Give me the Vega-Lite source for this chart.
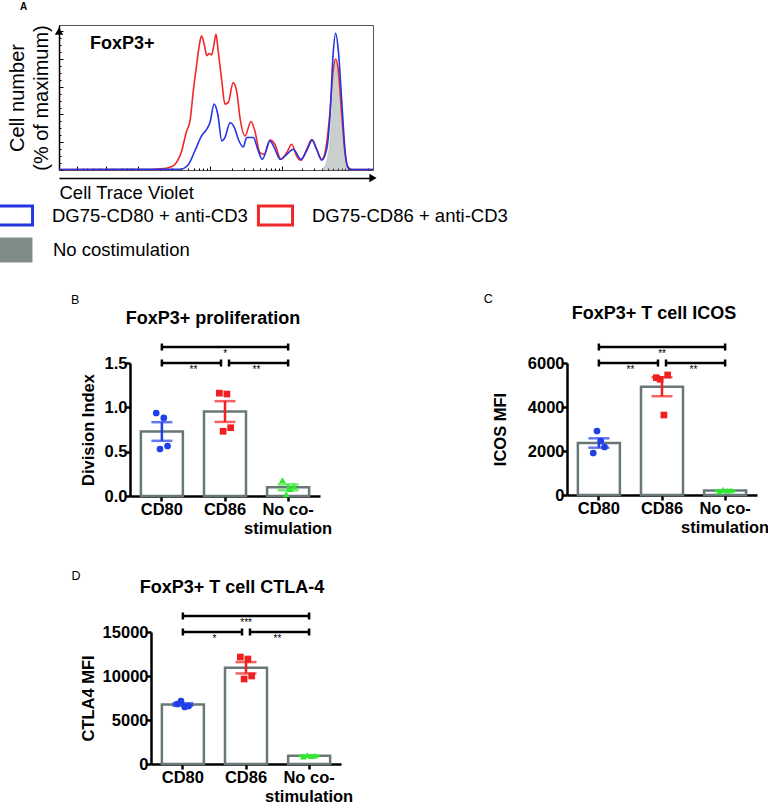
{
"$schema": "https://vega.github.io/schema/vega-lite/v6.json",
"background": "white",
"padding": {"left": 1, "top": 2, "right": 0, "bottom": 0},
"config": {
  "font": "Liberation Sans",
  "view": {"stroke": null},
  "axis": {"domainColor": "black", "domainWidth": 2.5, "tickColor": "black", "tickWidth": 2.5, "tickSize": 5, "labelFontSize": 16.5, "labelFontWeight": "bold", "labelColor": "black", "titleFontSize": 16.5, "titleFontWeight": "bold", "titleColor": "black", "grid": false, "labelPadding": 1, "zindex": 1},
  "axisY": {"labelPadding": -2},
  "axisX": {"labelPadding": 0},
  "title": {"color": "black"},
  "legend": {"padding": 0}
},
"datasets": {
  "hist": [
    {"sample": "DG75-CD86 + anti-CD3", "ctv": 0, "pct": 0.4},
    {"sample": "DG75-CD86 + anti-CD3", "ctv": 300, "pct": 0.4},
    {"sample": "DG75-CD86 + anti-CD3", "ctv": 340, "pct": 1},
    {"sample": "DG75-CD86 + anti-CD3", "ctv": 362, "pct": 2},
    {"sample": "DG75-CD86 + anti-CD3", "ctv": 378, "pct": 4},
    {"sample": "DG75-CD86 + anti-CD3", "ctv": 400, "pct": 13.7},
    {"sample": "DG75-CD86 + anti-CD3", "ctv": 416, "pct": 28},
    {"sample": "DG75-CD86 + anti-CD3", "ctv": 427, "pct": 35},
    {"sample": "DG75-CD86 + anti-CD3", "ctv": 438, "pct": 57},
    {"sample": "DG75-CD86 + anti-CD3", "ctv": 449, "pct": 76},
    {"sample": "DG75-CD86 + anti-CD3", "ctv": 460, "pct": 93},
    {"sample": "DG75-CD86 + anti-CD3", "ctv": 465, "pct": 96.8},
    {"sample": "DG75-CD86 + anti-CD3", "ctv": 474, "pct": 90},
    {"sample": "DG75-CD86 + anti-CD3", "ctv": 482, "pct": 82.4},
    {"sample": "DG75-CD86 + anti-CD3", "ctv": 490, "pct": 84},
    {"sample": "DG75-CD86 + anti-CD3", "ctv": 498, "pct": 83},
    {"sample": "DG75-CD86 + anti-CD3", "ctv": 505, "pct": 90},
    {"sample": "DG75-CD86 + anti-CD3", "ctv": 512, "pct": 98},
    {"sample": "DG75-CD86 + anti-CD3", "ctv": 519, "pct": 86},
    {"sample": "DG75-CD86 + anti-CD3", "ctv": 531, "pct": 64},
    {"sample": "DG75-CD86 + anti-CD3", "ctv": 541, "pct": 47.5},
    {"sample": "DG75-CD86 + anti-CD3", "ctv": 552, "pct": 48.7},
    {"sample": "DG75-CD86 + anti-CD3", "ctv": 568, "pct": 63},
    {"sample": "DG75-CD86 + anti-CD3", "ctv": 580, "pct": 56},
    {"sample": "DG75-CD86 + anti-CD3", "ctv": 590, "pct": 38},
    {"sample": "DG75-CD86 + anti-CD3", "ctv": 607, "pct": 24.6},
    {"sample": "DG75-CD86 + anti-CD3", "ctv": 626, "pct": 35},
    {"sample": "DG75-CD86 + anti-CD3", "ctv": 639, "pct": 28},
    {"sample": "DG75-CD86 + anti-CD3", "ctv": 655, "pct": 12.6},
    {"sample": "DG75-CD86 + anti-CD3", "ctv": 670, "pct": 11.3},
    {"sample": "DG75-CD86 + anti-CD3", "ctv": 688, "pct": 21.5},
    {"sample": "DG75-CD86 + anti-CD3", "ctv": 704, "pct": 18.6},
    {"sample": "DG75-CD86 + anti-CD3", "ctv": 724, "pct": 7.7},
    {"sample": "DG75-CD86 + anti-CD3", "ctv": 743, "pct": 12.6},
    {"sample": "DG75-CD86 + anti-CD3", "ctv": 759, "pct": 18.6},
    {"sample": "DG75-CD86 + anti-CD3", "ctv": 775, "pct": 10},
    {"sample": "DG75-CD86 + anti-CD3", "ctv": 789, "pct": 7},
    {"sample": "DG75-CD86 + anti-CD3", "ctv": 808, "pct": 15},
    {"sample": "DG75-CD86 + anti-CD3", "ctv": 824, "pct": 22},
    {"sample": "DG75-CD86 + anti-CD3", "ctv": 840, "pct": 15},
    {"sample": "DG75-CD86 + anti-CD3", "ctv": 857, "pct": 7.7},
    {"sample": "DG75-CD86 + anti-CD3", "ctv": 873, "pct": 19.8},
    {"sample": "DG75-CD86 + anti-CD3", "ctv": 884, "pct": 42.6},
    {"sample": "DG75-CD86 + anti-CD3", "ctv": 894, "pct": 71.5},
    {"sample": "DG75-CD86 + anti-CD3", "ctv": 902, "pct": 80},
    {"sample": "DG75-CD86 + anti-CD3", "ctv": 911, "pct": 71.5},
    {"sample": "DG75-CD86 + anti-CD3", "ctv": 922, "pct": 40},
    {"sample": "DG75-CD86 + anti-CD3", "ctv": 933, "pct": 11.3},
    {"sample": "DG75-CD86 + anti-CD3", "ctv": 943, "pct": 1.7},
    {"sample": "DG75-CD86 + anti-CD3", "ctv": 955, "pct": 0.4},
    {"sample": "DG75-CD86 + anti-CD3", "ctv": 1024, "pct": 0.4},
    {"sample": "DG75-CD80 + anti-CD3", "ctv": 0, "pct": 0.4},
    {"sample": "DG75-CD80 + anti-CD3", "ctv": 395, "pct": 0.5},
    {"sample": "DG75-CD80 + anti-CD3", "ctv": 422, "pct": 4},
    {"sample": "DG75-CD80 + anti-CD3", "ctv": 443, "pct": 13.7},
    {"sample": "DG75-CD80 + anti-CD3", "ctv": 465, "pct": 24.6},
    {"sample": "DG75-CD80 + anti-CD3", "ctv": 482, "pct": 29.4},
    {"sample": "DG75-CD80 + anti-CD3", "ctv": 492, "pct": 34},
    {"sample": "DG75-CD80 + anti-CD3", "ctv": 506, "pct": 47.5},
    {"sample": "DG75-CD80 + anti-CD3", "ctv": 518, "pct": 40},
    {"sample": "DG75-CD80 + anti-CD3", "ctv": 531, "pct": 21},
    {"sample": "DG75-CD80 + anti-CD3", "ctv": 541, "pct": 23.4},
    {"sample": "DG75-CD80 + anti-CD3", "ctv": 558, "pct": 34},
    {"sample": "DG75-CD80 + anti-CD3", "ctv": 572, "pct": 30.6},
    {"sample": "DG75-CD80 + anti-CD3", "ctv": 585, "pct": 22},
    {"sample": "DG75-CD80 + anti-CD3", "ctv": 601, "pct": 16.6},
    {"sample": "DG75-CD80 + anti-CD3", "ctv": 612, "pct": 23.4},
    {"sample": "DG75-CD80 + anti-CD3", "ctv": 634, "pct": 23.4},
    {"sample": "DG75-CD80 + anti-CD3", "ctv": 648, "pct": 15},
    {"sample": "DG75-CD80 + anti-CD3", "ctv": 663, "pct": 7.7},
    {"sample": "DG75-CD80 + anti-CD3", "ctv": 688, "pct": 21},
    {"sample": "DG75-CD80 + anti-CD3", "ctv": 702, "pct": 16.2},
    {"sample": "DG75-CD80 + anti-CD3", "ctv": 721, "pct": 7.7},
    {"sample": "DG75-CD80 + anti-CD3", "ctv": 743, "pct": 11.3},
    {"sample": "DG75-CD80 + anti-CD3", "ctv": 764, "pct": 15},
    {"sample": "DG75-CD80 + anti-CD3", "ctv": 789, "pct": 7.7},
    {"sample": "DG75-CD80 + anti-CD3", "ctv": 808, "pct": 14},
    {"sample": "DG75-CD80 + anti-CD3", "ctv": 826, "pct": 21.5},
    {"sample": "DG75-CD80 + anti-CD3", "ctv": 840, "pct": 15},
    {"sample": "DG75-CD80 + anti-CD3", "ctv": 857, "pct": 7},
    {"sample": "DG75-CD80 + anti-CD3", "ctv": 873, "pct": 15},
    {"sample": "DG75-CD80 + anti-CD3", "ctv": 884, "pct": 40},
    {"sample": "DG75-CD80 + anti-CD3", "ctv": 894, "pct": 83.6},
    {"sample": "DG75-CD80 + anti-CD3", "ctv": 902, "pct": 98.6},
    {"sample": "DG75-CD80 + anti-CD3", "ctv": 911, "pct": 86},
    {"sample": "DG75-CD80 + anti-CD3", "ctv": 922, "pct": 50},
    {"sample": "DG75-CD80 + anti-CD3", "ctv": 933, "pct": 13.7},
    {"sample": "DG75-CD80 + anti-CD3", "ctv": 943, "pct": 1.7},
    {"sample": "DG75-CD80 + anti-CD3", "ctv": 954, "pct": 0.4},
    {"sample": "DG75-CD80 + anti-CD3", "ctv": 1024, "pct": 0.4},
    {"sample": "No costimulation", "ctv": 857, "pct": 0.5},
    {"sample": "No costimulation", "ctv": 873, "pct": 7.7},
    {"sample": "No costimulation", "ctv": 884, "pct": 25.8},
    {"sample": "No costimulation", "ctv": 891, "pct": 52},
    {"sample": "No costimulation", "ctv": 900, "pct": 78.8},
    {"sample": "No costimulation", "ctv": 909, "pct": 76},
    {"sample": "No costimulation", "ctv": 916, "pct": 57},
    {"sample": "No costimulation", "ctv": 927, "pct": 25.8},
    {"sample": "No costimulation", "ctv": 938, "pct": 4},
    {"sample": "No costimulation", "ctv": 946, "pct": 0.5}
  ],
  "B": [
    {"group": "CD80", "rep": 1, "value": 0.936}, {"group": "CD80", "rep": 2, "value": 0.53}, {"group": "CD80", "rep": 3, "value": 0.88}, {"group": "CD80", "rep": 4, "value": 0.564},
    {"group": "CD86", "rep": 1, "value": 1.16}, {"group": "CD86", "rep": 2, "value": 0.73}, {"group": "CD86", "rep": 3, "value": 1.15}, {"group": "CD86", "rep": 4, "value": 0.77},
    {"group": "No co-stimulation", "rep": 1, "value": 0.18}, {"group": "No co-stimulation", "rep": 2, "value": 0.02}, {"group": "No co-stimulation", "rep": 3, "value": 0.079}, {"group": "No co-stimulation", "rep": 4, "value": 0.113}
  ],
  "C": [
    {"group": "CD80", "rep": 1, "value": 1909}, {"group": "CD80", "rep": 2, "value": 2909}, {"group": "CD80", "rep": 3, "value": 2455}, {"group": "CD80", "rep": 4, "value": 2182},
    {"group": "CD86", "rep": 1, "value": 5332}, {"group": "CD86", "rep": 2, "value": 5259}, {"group": "CD86", "rep": 3, "value": 3636}, {"group": "CD86", "rep": 4, "value": 5455},
    {"group": "No co-stimulation", "rep": 1, "value": 150}, {"group": "No co-stimulation", "rep": 2, "value": 240}, {"group": "No co-stimulation", "rep": 3, "value": 200}, {"group": "No co-stimulation", "rep": 4, "value": 210}
  ],
  "D": [
    {"group": "CD80", "rep": 1, "value": 6818}, {"group": "CD80", "rep": 2, "value": 7159}, {"group": "CD80", "rep": 3, "value": 6477}, {"group": "CD80", "rep": 4, "value": 6590},
    {"group": "CD86", "rep": 1, "value": 12159}, {"group": "CD86", "rep": 2, "value": 9659}, {"group": "CD86", "rep": 3, "value": 11932}, {"group": "CD86", "rep": 4, "value": 10000},
    {"group": "No co-stimulation", "rep": 1, "value": 850}, {"group": "No co-stimulation", "rep": 2, "value": 1000}, {"group": "No co-stimulation", "rep": 3, "value": 900}, {"group": "No co-stimulation", "rep": 4, "value": 950}
  ],
  "sigB": [
    {"side": "left", "from": "CD80", "to": "CD86", "y": 1.5, "p": "**"},
    {"side": "right", "from": "CD86", "to": "No co-stimulation", "y": 1.5, "p": "**"},
    {"side": "span", "from": "CD80", "to": "No co-stimulation", "y": 1.68, "p": "*"}
  ],
  "sigC": [
    {"side": "left", "from": "CD80", "to": "CD86", "y": 6000, "p": "**"},
    {"side": "right", "from": "CD86", "to": "No co-stimulation", "y": 6000, "p": "**"},
    {"side": "span", "from": "CD80", "to": "No co-stimulation", "y": 6727, "p": "**"}
  ],
  "sigD": [
    {"side": "left", "from": "CD80", "to": "CD86", "y": 15000, "p": "*"},
    {"side": "right", "from": "CD86", "to": "No co-stimulation", "y": 15000, "p": "**"},
    {"side": "span", "from": "CD80", "to": "No co-stimulation", "y": 16818, "p": "***"}
  ]
},
"resolve": {"scale": {"color": "independent", "shape": "independent", "fill": "independent", "stroke": "independent"}, "legend": {"color": "independent", "shape": "independent", "fill": "independent", "stroke": "independent"}},
"spacing": 30,
"vconcat": [
  {
    "title": {"text": "A", "anchor": "start", "frame": "bounds", "fontSize": 10, "fontWeight": "bold", "baseline": "alphabetic", "offset": 4, "dx": 19},
    "vconcat": [
      {
        "title": {"text": "FoxP3+", "anchor": "start", "frame": "group", "fontSize": 18, "fontWeight": "bold", "baseline": "alphabetic", "offset": -42, "dx": 31},
        "width": 314, "height": 145,
        "view": {"stroke": "#555555", "strokeWidth": 1},
        "resolve": {"axis": {"x": "independent", "y": "independent"}},
        "layer": [
          {
            "data": {"name": "hist"},
            "transform": [{"filter": "datum.sample == 'No costimulation'"}],
            "mark": {"type": "area", "interpolate": "monotone", "fillOpacity": 0.42},
            "encoding": {
              "x": {"field": "ctv", "type": "quantitative", "scale": {"domain": [0, 1024], "nice": false, "zero": false},
                    "axis": {"orient": "bottom", "offset": 8, "title": "Cell Trace Violet", "titleAnchor": "start", "titleFontSize": 18.5, "titleFontWeight": "normal", "titlePadding": 5, "labels": false, "ticks": false, "domainWidth": 1.5}},
              "y": {"field": "pct", "type": "quantitative", "scale": {"domain": [0, 104.5], "nice": false},
                    "axis": {"orient": "left", "title": ["Cell number", "(% of maximum)"], "titleFontSize": 20, "titleFontWeight": "normal", "titleLineHeight": 24, "titlePadding": 8, "labels": false, "ticks": false, "domainWidth": 1.5}},
              "fill": {"field": "sample", "type": "nominal",
                       "scale": {"domain": ["No costimulation"], "range": ["#7f8c89"]},
                       "legend": {"title": null, "orient": "none", "legendX": -58, "legendY": 214,
                                  "symbolType": "M-1.86,-1.14H1.86V1.14H-1.86Z", "symbolSize": 484, "symbolStrokeWidth": 0, "symbolOpacity": 1,
                                  "labelFontSize": 18.5, "labelColor": "black", "labelOffset": 30, "labelLimit": 400}}
            }
          },
          {
            "data": {"name": "hist"},
            "transform": [{"filter": "datum.sample == 'DG75-CD86 + anti-CD3'"}],
            "mark": {"type": "line", "interpolate": "monotone", "strokeWidth": 1.6},
            "encoding": {
              "x": {"field": "ctv", "type": "quantitative",
                    "axis": {"orient": "bottom", "offset": -4, "domain": false, "labels": false, "title": null, "tickSize": 4, "tickWidth": 1, "values": [59, 153, 258, 492, 727, 942]}},
              "y": {"field": "pct", "type": "quantitative",
                    "axis": {"orient": "left", "offset": -4, "domain": false, "labels": false, "title": null, "tickSize": 4, "tickWidth": 1, "values": [0, 20, 40, 60, 80, 100]}},
              "stroke": {"field": "sample", "type": "nominal",
                         "scale": {"domain": ["DG75-CD80 + anti-CD3", "DG75-CD86 + anti-CD3"], "range": ["#2536e0", "#f0282a"]},
                         "legend": {"title": null, "orient": "none", "legendX": -56, "legendY": 178, "columns": 2, "direction": "horizontal",
                                    "symbolType": "M-1.55,-0.86H1.55V0.86H-1.55Z", "symbolSize": 484, "symbolStrokeWidth": 3, "symbolFillColor": "#ffffff", "symbolOpacity": 1,
                                    "labelFontSize": 18.5, "labelColor": "black", "labelOffset": 24, "labelLimit": 400, "columnPadding": 4}}
            }
          },
          {
            "data": {"name": "hist"},
            "transform": [{"filter": "datum.sample == 'DG75-CD80 + anti-CD3'"}],
            "mark": {"type": "line", "interpolate": "monotone", "strokeWidth": 1.6},
            "encoding": {
              "x": {"field": "ctv", "type": "quantitative",
                    "axis": {"orient": "bottom", "offset": -2, "domain": false, "labels": false, "title": null, "tickSize": 2, "tickWidth": 1, "values": [78, 91, 111, 134, 176, 205, 222, 238, 328, 370, 399, 422, 440, 456, 470, 482, 563, 604, 634, 656, 675, 691, 704, 716, 792, 830, 857, 878, 895, 909, 922, 933, 1007]}},
              "y": {"field": "pct", "type": "quantitative",
                    "axis": {"orient": "left", "offset": -2, "domain": false, "labels": false, "title": null, "tickSize": 2, "tickWidth": 1, "values": [5, 10, 15, 25, 30, 35, 45, 50, 55, 65, 70, 75, 85, 90, 95]}},
              "stroke": {"field": "sample", "type": "nominal",
                         "legend": {"title": null, "orient": "none", "legendX": -56, "legendY": 178, "columns": 2, "direction": "horizontal",
                                    "symbolType": "M-1.55,-0.86H1.55V0.86H-1.55Z", "symbolSize": 484, "symbolStrokeWidth": 3, "symbolFillColor": "#ffffff", "symbolOpacity": 1,
                                    "labelFontSize": 18.5, "labelColor": "black", "labelOffset": 24, "labelLimit": 400, "columnPadding": 4}}
            }
          },
          {
            "data": {"values": [{"arrow": "x"}]},
            "mark": {"type": "point", "shape": "triangle-right", "filled": true, "color": "black", "opacity": 1, "size": 70, "yOffset": 8},
            "encoding": {"x": {"datum": 1024, "type": "quantitative", "axis": null}, "y": {"datum": 0, "type": "quantitative", "axis": null}}
          },
          {
            "data": {"values": [{"arrow": "y"}]},
            "mark": {"type": "point", "shape": "triangle-up", "filled": true, "color": "black", "opacity": 1, "size": 70},
            "encoding": {"x": {"datum": 0, "type": "quantitative", "axis": null}, "y": {"datum": 100, "type": "quantitative", "axis": null}}
          }
        ]
      }
    ]
  },
  {
    "spacing": 32,
    "vconcat": [
      {
        "spacing": 0,
        "hconcat": [
          {"width": 12, "height": 1, "data": {"values": []}, "mark": "point", "encoding": {}},
          {
            "spacing": 151,
            "hconcat": [
              {
                "title": {"text": "B", "anchor": "start", "frame": "bounds", "fontSize": 12.5, "fontWeight": "normal", "baseline": "alphabetic", "offset": -7, "dx": -9},
                "vconcat": [
                  {
                    "title": {"text": "FoxP3+ proliferation", "anchor": "middle", "frame": "group", "fontSize": 18, "fontWeight": "bold", "baseline": "alphabetic", "offset": 0.5, "dx": -12},
                    "width": 190, "height": 133,
                    "layer": [
                      {"data": {"name": "B"},
                       "mark": {"type": "bar", "fill": "white", "stroke": "#687878", "strokeWidth": 2.5, "width": 42},
                       "encoding": {
                         "x": {"field": "group", "type": "nominal", "scale": {"type": "band", "domain": ["CD80", "CD86", "No co-stimulation"], "paddingInner": 0.33, "paddingOuter": 0.17},
                               "axis": {"title": null, "labelAngle": 0, "labelExpr": "datum.label == 'No co-stimulation' ? ['No co-', 'stimulation'] : datum.label", "labelLineHeight": 19}},
                         "y": {"aggregate": "mean", "field": "value", "type": "quantitative", "scale": {"domain": [0, 1.5], "nice": false}, "title": "Division Index",
                               "axis": {"title": "Division Index", "values": [0, 0.5, 1, 1.5], "format": ".1f", "titlePadding": 8}}}},
                      {"data": {"name": "B"},
                       "mark": {"type": "errorbar", "extent": "stderr", "thickness": 2.5, "ticks": {"size": 21, "thickness": 2.5}},
                       "encoding": {
                         "x": {"field": "group", "type": "nominal"},
                         "y": {"field": "value", "type": "quantitative", "title": "Division Index"},
                         "color": {"field": "group", "type": "nominal", "scale": {"domain": ["CD80", "CD86", "No co-stimulation"], "range": ["#1f3fe8", "#f02020", "#30e830"]}, "legend": null}}},
                      {"data": {"name": "B"},
                       "mark": {"type": "point", "filled": true, "opacity": 1, "size": 45},
                       "encoding": {
                         "x": {"field": "group", "type": "nominal"},
                         "xOffset": {"field": "rep", "type": "nominal", "scale": {"range": [13.6, 28.7]}},
                         "y": {"field": "value", "type": "quantitative", "title": "Division Index"},
                         "color": {"field": "group", "type": "nominal", "legend": null},
                         "shape": {"field": "group", "type": "nominal", "scale": {"domain": ["CD80", "CD86", "No co-stimulation"], "range": ["circle", "square", "triangle-up"]}, "legend": null}}},
                      {"data": {"name": "sigB"}, "transform": [{"filter": "datum.side == 'left'"}],
                       "mark": {"type": "rule", "color": "black", "strokeWidth": 2.5, "x2Offset": -4},
                       "encoding": {"x": {"field": "from", "type": "nominal"}, "x2": {"field": "to"}, "y": {"field": "y", "type": "quantitative", "title": "Division Index"}}},
                      {"data": {"name": "sigB"}, "transform": [{"filter": "datum.side == 'right'"}],
                       "mark": {"type": "rule", "color": "black", "strokeWidth": 2.5, "xOffset": 4},
                       "encoding": {"x": {"field": "from", "type": "nominal"}, "x2": {"field": "to"}, "y": {"field": "y", "type": "quantitative", "title": "Division Index"}}},
                      {"data": {"name": "sigB"}, "transform": [{"filter": "datum.side == 'span'"}],
                       "mark": {"type": "rule", "color": "black", "strokeWidth": 2.5},
                       "encoding": {"x": {"field": "from", "type": "nominal"}, "x2": {"field": "to"}, "y": {"field": "y", "type": "quantitative", "title": "Division Index"}}},
                      {"data": {"name": "sigB"}, "transform": [{"filter": "datum.side != 'right'"}],
                       "mark": {"type": "rule", "color": "black", "strokeWidth": 2.5, "yOffset": -3.5, "y2Offset": 3.5},
                       "encoding": {"x": {"field": "from", "type": "nominal"}, "y": {"field": "y", "type": "quantitative", "title": "Division Index"}, "y2": {"field": "y"}}},
                      {"data": {"name": "sigB"}, "transform": [{"filter": "datum.side == 'right'"}],
                       "mark": {"type": "rule", "color": "black", "strokeWidth": 2.5, "yOffset": -3.5, "y2Offset": 3.5, "xOffset": 4},
                       "encoding": {"x": {"field": "from", "type": "nominal"}, "y": {"field": "y", "type": "quantitative", "title": "Division Index"}, "y2": {"field": "y"}}},
                      {"data": {"name": "sigB"}, "transform": [{"filter": "datum.side != 'left'"}],
                       "mark": {"type": "rule", "color": "black", "strokeWidth": 2.5, "yOffset": -3.5, "y2Offset": 3.5},
                       "encoding": {"x": {"field": "to", "type": "nominal"}, "y": {"field": "y", "type": "quantitative", "title": "Division Index"}, "y2": {"field": "y"}}},
                      {"data": {"name": "sigB"}, "transform": [{"filter": "datum.side == 'left'"}],
                       "mark": {"type": "rule", "color": "black", "strokeWidth": 2.5, "yOffset": -3.5, "y2Offset": 3.5, "xOffset": -4},
                       "encoding": {"x": {"field": "to", "type": "nominal"}, "y": {"field": "y", "type": "quantitative", "title": "Division Index"}, "y2": {"field": "y"}}},
                      {"data": {"name": "sigB"}, "transform": [{"filter": "datum.side == 'left'"}],
                       "mark": {"type": "text", "fontSize": 10, "baseline": "top", "dy": 2, "dx": -31.5, "color": "black"},
                       "encoding": {"x": {"field": "to", "type": "nominal"}, "y": {"field": "y", "type": "quantitative", "title": "Division Index"}, "text": {"field": "p"}}},
                      {"data": {"name": "sigB"}, "transform": [{"filter": "datum.side == 'right'"}],
                       "mark": {"type": "text", "fontSize": 10, "baseline": "top", "dy": 2, "dx": 31.5, "color": "black"},
                       "encoding": {"x": {"field": "from", "type": "nominal"}, "y": {"field": "y", "type": "quantitative", "title": "Division Index"}, "text": {"field": "p"}}},
                      {"data": {"name": "sigB"}, "transform": [{"filter": "datum.side == 'span'"}],
                       "mark": {"type": "text", "fontSize": 10, "baseline": "top", "dy": 2, "dx": -63, "color": "black"},
                       "encoding": {"x": {"field": "to", "type": "nominal"}, "y": {"field": "y", "type": "quantitative", "title": "Division Index"}, "text": {"field": "p"}}}
                    ]
                  }
                ]
              },
              {
                "title": {"text": "C", "anchor": "start", "frame": "bounds", "fontSize": 12.5, "fontWeight": "normal", "baseline": "alphabetic", "offset": -11, "dx": -9},
                "vconcat": [
                  {
                    "title": {"text": "FoxP3+ T cell ICOS", "anchor": "middle", "frame": "group", "fontSize": 18, "fontWeight": "bold", "baseline": "alphabetic", "offset": 5.5, "dx": -8},
                    "width": 190, "height": 132,
                    "layer": [
                      {"data": {"name": "C"},
                       "mark": {"type": "bar", "fill": "white", "stroke": "#687878", "strokeWidth": 2.5, "width": 42},
                       "encoding": {
                         "x": {"field": "group", "type": "nominal", "scale": {"type": "band", "domain": ["CD80", "CD86", "No co-stimulation"], "paddingInner": 0.33, "paddingOuter": 0.17},
                               "axis": {"title": null, "labelAngle": 0, "labelExpr": "datum.label == 'No co-stimulation' ? ['No co-', 'stimulation'] : datum.label", "labelLineHeight": 19}},
                         "y": {"aggregate": "mean", "field": "value", "type": "quantitative", "scale": {"domain": [0, 6000], "nice": false}, "title": "ICOS MFI",
                               "axis": {"title": "ICOS MFI", "values": [0, 2000, 4000, 6000], "format": "d", "titlePadding": 18.5}}}},
                      {"data": {"name": "C"},
                       "mark": {"type": "errorbar", "extent": "stderr", "thickness": 2.5, "ticks": {"size": 21, "thickness": 2.5}},
                       "encoding": {
                         "x": {"field": "group", "type": "nominal"},
                         "y": {"field": "value", "type": "quantitative", "title": "ICOS MFI"},
                         "color": {"field": "group", "type": "nominal", "scale": {"domain": ["CD80", "CD86", "No co-stimulation"], "range": ["#1f3fe8", "#f02020", "#30e830"]}, "legend": null}}},
                      {"data": {"name": "C"},
                       "mark": {"type": "point", "filled": true, "opacity": 1, "size": 45},
                       "encoding": {
                         "x": {"field": "group", "type": "nominal"},
                         "xOffset": {"field": "rep", "type": "nominal", "scale": {"range": [13.6, 28.7]}},
                         "y": {"field": "value", "type": "quantitative", "title": "ICOS MFI"},
                         "color": {"field": "group", "type": "nominal", "legend": null},
                         "shape": {"field": "group", "type": "nominal", "scale": {"domain": ["CD80", "CD86", "No co-stimulation"], "range": ["circle", "square", "triangle-up"]}, "legend": null}}},
                      {"data": {"name": "sigC"}, "transform": [{"filter": "datum.side == 'left'"}],
                       "mark": {"type": "rule", "color": "black", "strokeWidth": 2.5, "x2Offset": -4},
                       "encoding": {"x": {"field": "from", "type": "nominal"}, "x2": {"field": "to"}, "y": {"field": "y", "type": "quantitative", "title": "ICOS MFI"}}},
                      {"data": {"name": "sigC"}, "transform": [{"filter": "datum.side == 'right'"}],
                       "mark": {"type": "rule", "color": "black", "strokeWidth": 2.5, "xOffset": 4},
                       "encoding": {"x": {"field": "from", "type": "nominal"}, "x2": {"field": "to"}, "y": {"field": "y", "type": "quantitative", "title": "ICOS MFI"}}},
                      {"data": {"name": "sigC"}, "transform": [{"filter": "datum.side == 'span'"}],
                       "mark": {"type": "rule", "color": "black", "strokeWidth": 2.5},
                       "encoding": {"x": {"field": "from", "type": "nominal"}, "x2": {"field": "to"}, "y": {"field": "y", "type": "quantitative", "title": "ICOS MFI"}}},
                      {"data": {"name": "sigC"}, "transform": [{"filter": "datum.side != 'right'"}],
                       "mark": {"type": "rule", "color": "black", "strokeWidth": 2.5, "yOffset": -3.5, "y2Offset": 3.5},
                       "encoding": {"x": {"field": "from", "type": "nominal"}, "y": {"field": "y", "type": "quantitative", "title": "ICOS MFI"}, "y2": {"field": "y"}}},
                      {"data": {"name": "sigC"}, "transform": [{"filter": "datum.side == 'right'"}],
                       "mark": {"type": "rule", "color": "black", "strokeWidth": 2.5, "yOffset": -3.5, "y2Offset": 3.5, "xOffset": 4},
                       "encoding": {"x": {"field": "from", "type": "nominal"}, "y": {"field": "y", "type": "quantitative", "title": "ICOS MFI"}, "y2": {"field": "y"}}},
                      {"data": {"name": "sigC"}, "transform": [{"filter": "datum.side != 'left'"}],
                       "mark": {"type": "rule", "color": "black", "strokeWidth": 2.5, "yOffset": -3.5, "y2Offset": 3.5},
                       "encoding": {"x": {"field": "to", "type": "nominal"}, "y": {"field": "y", "type": "quantitative", "title": "ICOS MFI"}, "y2": {"field": "y"}}},
                      {"data": {"name": "sigC"}, "transform": [{"filter": "datum.side == 'left'"}],
                       "mark": {"type": "rule", "color": "black", "strokeWidth": 2.5, "yOffset": -3.5, "y2Offset": 3.5, "xOffset": -4},
                       "encoding": {"x": {"field": "to", "type": "nominal"}, "y": {"field": "y", "type": "quantitative", "title": "ICOS MFI"}, "y2": {"field": "y"}}},
                      {"data": {"name": "sigC"}, "transform": [{"filter": "datum.side == 'left'"}],
                       "mark": {"type": "text", "fontSize": 10, "baseline": "top", "dy": 2, "dx": -31.5, "color": "black"},
                       "encoding": {"x": {"field": "to", "type": "nominal"}, "y": {"field": "y", "type": "quantitative", "title": "ICOS MFI"}, "text": {"field": "p"}}},
                      {"data": {"name": "sigC"}, "transform": [{"filter": "datum.side == 'right'"}],
                       "mark": {"type": "text", "fontSize": 10, "baseline": "top", "dy": 2, "dx": 31.5, "color": "black"},
                       "encoding": {"x": {"field": "from", "type": "nominal"}, "y": {"field": "y", "type": "quantitative", "title": "ICOS MFI"}, "text": {"field": "p"}}},
                      {"data": {"name": "sigC"}, "transform": [{"filter": "datum.side == 'span'"}],
                       "mark": {"type": "text", "fontSize": 10, "baseline": "top", "dy": 2, "dx": -63, "color": "black"},
                       "encoding": {"x": {"field": "to", "type": "nominal"}, "y": {"field": "y", "type": "quantitative", "title": "ICOS MFI"}, "text": {"field": "p"}}}
                    ]
                  }
                ]
              }
            ]
          }
        ]
      },
      {
        "spacing": 0,
        "hconcat": [
          {"width": 12, "height": 1, "data": {"values": []}, "mark": "point", "encoding": {}},
          {
            "title": {"text": "D", "anchor": "start", "frame": "bounds", "fontSize": 12.5, "fontWeight": "normal", "baseline": "alphabetic", "offset": -13.5, "dx": -9},
            "vconcat": [
              {
                "title": {"text": "FoxP3+ T cell CTLA-4", "anchor": "middle", "frame": "group", "fontSize": 18, "fontWeight": "bold", "baseline": "alphabetic", "offset": 0.5, "dx": -14},
                "width": 190, "height": 132,
                "layer": [
                  {"data": {"name": "D"},
                   "mark": {"type": "bar", "fill": "white", "stroke": "#687878", "strokeWidth": 2.5, "width": 42},
                   "encoding": {
                     "x": {"field": "group", "type": "nominal", "scale": {"type": "band", "domain": ["CD80", "CD86", "No co-stimulation"], "paddingInner": 0.33, "paddingOuter": 0.17},
                           "axis": {"title": null, "labelAngle": 0, "labelExpr": "datum.label == 'No co-stimulation' ? ['No co-', 'stimulation'] : datum.label", "labelLineHeight": 19}},
                     "y": {"aggregate": "mean", "field": "value", "type": "quantitative", "scale": {"domain": [0, 15000], "nice": false}, "title": "CTLA4 MFI",
                           "axis": {"title": "CTLA4 MFI", "values": [0, 5000, 10000, 15000], "format": "d", "titlePadding": 5.5}}}},
                  {"data": {"name": "D"},
                   "mark": {"type": "errorbar", "extent": "stderr", "thickness": 2.5, "ticks": {"size": 21, "thickness": 2.5}},
                   "encoding": {
                     "x": {"field": "group", "type": "nominal"},
                     "y": {"field": "value", "type": "quantitative", "title": "CTLA4 MFI"},
                     "color": {"field": "group", "type": "nominal", "scale": {"domain": ["CD80", "CD86", "No co-stimulation"], "range": ["#1f3fe8", "#f02020", "#30e830"]}, "legend": null}}},
                  {"data": {"name": "D"},
                   "mark": {"type": "point", "filled": true, "opacity": 1, "size": 45},
                   "encoding": {
                     "x": {"field": "group", "type": "nominal"},
                     "xOffset": {"field": "rep", "type": "nominal", "scale": {"range": [13.6, 28.7]}},
                     "y": {"field": "value", "type": "quantitative", "title": "CTLA4 MFI"},
                     "color": {"field": "group", "type": "nominal", "legend": null},
                     "shape": {"field": "group", "type": "nominal", "scale": {"domain": ["CD80", "CD86", "No co-stimulation"], "range": ["circle", "square", "triangle-up"]}, "legend": null}}},
                  {"data": {"name": "sigD"}, "transform": [{"filter": "datum.side == 'left'"}],
                   "mark": {"type": "rule", "color": "black", "strokeWidth": 2.5, "x2Offset": -4},
                   "encoding": {"x": {"field": "from", "type": "nominal"}, "x2": {"field": "to"}, "y": {"field": "y", "type": "quantitative", "title": "CTLA4 MFI"}}},
                  {"data": {"name": "sigD"}, "transform": [{"filter": "datum.side == 'right'"}],
                   "mark": {"type": "rule", "color": "black", "strokeWidth": 2.5, "xOffset": 4},
                   "encoding": {"x": {"field": "from", "type": "nominal"}, "x2": {"field": "to"}, "y": {"field": "y", "type": "quantitative", "title": "CTLA4 MFI"}}},
                  {"data": {"name": "sigD"}, "transform": [{"filter": "datum.side == 'span'"}],
                   "mark": {"type": "rule", "color": "black", "strokeWidth": 2.5},
                   "encoding": {"x": {"field": "from", "type": "nominal"}, "x2": {"field": "to"}, "y": {"field": "y", "type": "quantitative", "title": "CTLA4 MFI"}}},
                  {"data": {"name": "sigD"}, "transform": [{"filter": "datum.side != 'right'"}],
                   "mark": {"type": "rule", "color": "black", "strokeWidth": 2.5, "yOffset": -3.5, "y2Offset": 3.5},
                   "encoding": {"x": {"field": "from", "type": "nominal"}, "y": {"field": "y", "type": "quantitative", "title": "CTLA4 MFI"}, "y2": {"field": "y"}}},
                  {"data": {"name": "sigD"}, "transform": [{"filter": "datum.side == 'right'"}],
                   "mark": {"type": "rule", "color": "black", "strokeWidth": 2.5, "yOffset": -3.5, "y2Offset": 3.5, "xOffset": 4},
                   "encoding": {"x": {"field": "from", "type": "nominal"}, "y": {"field": "y", "type": "quantitative", "title": "CTLA4 MFI"}, "y2": {"field": "y"}}},
                  {"data": {"name": "sigD"}, "transform": [{"filter": "datum.side != 'left'"}],
                   "mark": {"type": "rule", "color": "black", "strokeWidth": 2.5, "yOffset": -3.5, "y2Offset": 3.5},
                   "encoding": {"x": {"field": "to", "type": "nominal"}, "y": {"field": "y", "type": "quantitative", "title": "CTLA4 MFI"}, "y2": {"field": "y"}}},
                  {"data": {"name": "sigD"}, "transform": [{"filter": "datum.side == 'left'"}],
                   "mark": {"type": "rule", "color": "black", "strokeWidth": 2.5, "yOffset": -3.5, "y2Offset": 3.5, "xOffset": -4},
                   "encoding": {"x": {"field": "to", "type": "nominal"}, "y": {"field": "y", "type": "quantitative", "title": "CTLA4 MFI"}, "y2": {"field": "y"}}},
                  {"data": {"name": "sigD"}, "transform": [{"filter": "datum.side == 'left'"}],
                   "mark": {"type": "text", "fontSize": 10, "baseline": "top", "dy": 2, "dx": -31.5, "color": "black"},
                   "encoding": {"x": {"field": "to", "type": "nominal"}, "y": {"field": "y", "type": "quantitative", "title": "CTLA4 MFI"}, "text": {"field": "p"}}},
                  {"data": {"name": "sigD"}, "transform": [{"filter": "datum.side == 'right'"}],
                   "mark": {"type": "text", "fontSize": 10, "baseline": "top", "dy": 2, "dx": 31.5, "color": "black"},
                   "encoding": {"x": {"field": "from", "type": "nominal"}, "y": {"field": "y", "type": "quantitative", "title": "CTLA4 MFI"}, "text": {"field": "p"}}},
                  {"data": {"name": "sigD"}, "transform": [{"filter": "datum.side == 'span'"}],
                   "mark": {"type": "text", "fontSize": 10, "baseline": "top", "dy": 2, "dx": -63, "color": "black"},
                   "encoding": {"x": {"field": "to", "type": "nominal"}, "y": {"field": "y", "type": "quantitative", "title": "CTLA4 MFI"}, "text": {"field": "p"}}}
                ]
              }
            ]
          }
        ]
      }
    ]
  }
]
}
